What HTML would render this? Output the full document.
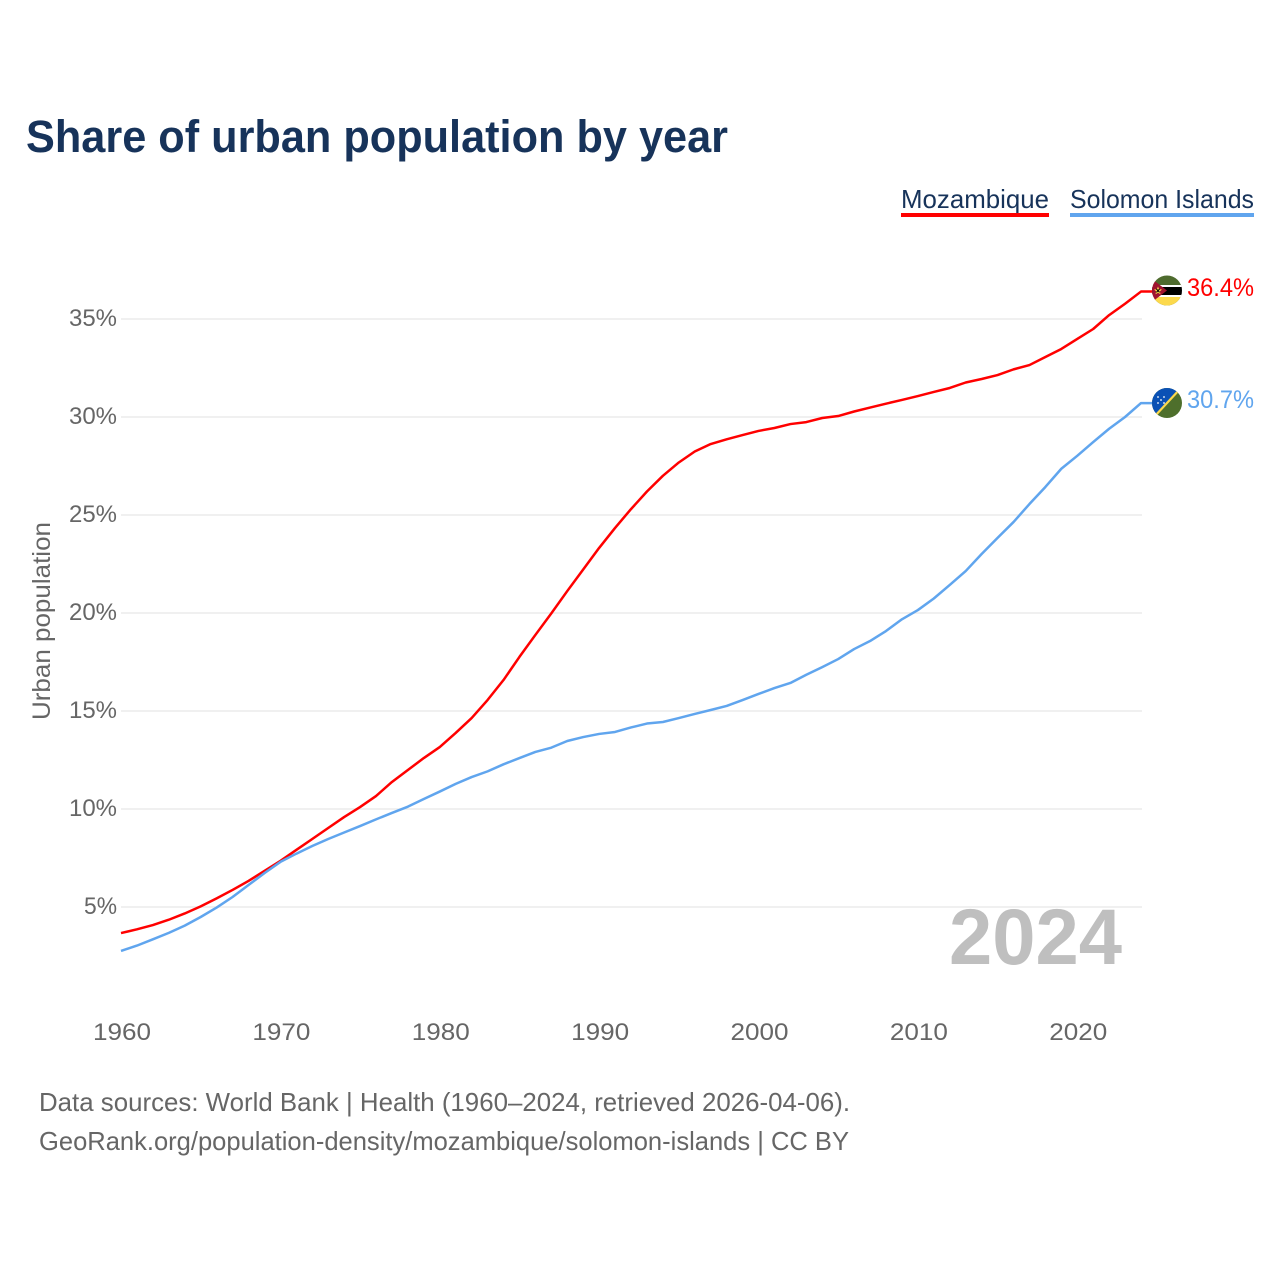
<!DOCTYPE html>
<html lang="en">
<head>
<meta charset="utf-8">
<title>Share of urban population by year</title>
<style>
html,body{margin:0;padding:0;background:#fff;width:1280px;height:1280px;overflow:hidden}
svg{display:block}
text{font-family:"Liberation Sans",sans-serif}
</style>
</head>
<body>
<svg id="chart" width="1280" height="1280" viewBox="0 0 1280 1280" xmlns="http://www.w3.org/2000/svg">
  <defs>
    <clipPath id="flag-clip-mz"><circle cx="1167" cy="290.5" r="15"/></clipPath>
    <clipPath id="flag-clip-sb"><circle cx="1167" cy="403" r="15"/></clipPath>
  </defs>
  <rect width="1280" height="1280" fill="#fff"/>
  <text x="26" y="152" font-size="45" font-weight="700" fill="#17335a" textLength="702" lengthAdjust="spacingAndGlyphs">Share of urban population by year</text>

  <g>
    <g>
      <text x="901" y="208" font-size="26" fill="#17335a" textLength="148" lengthAdjust="spacingAndGlyphs">Mozambique</text>
      <rect x="901" y="213" width="148" height="4" fill="#ff0000"/>
    </g>
    <g>
      <text x="1070" y="208" font-size="26" fill="#17335a" textLength="184" lengthAdjust="spacingAndGlyphs">Solomon Islands</text>
      <rect x="1070" y="213" width="184" height="4" fill="#60a5ee"/>
    </g>
  </g>

  <g id="grid"></g>
  <g id="yticks"></g>
  <g id="xticks"></g>
  <text transform="translate(50,621) rotate(-90)" text-anchor="middle" font-size="25" fill="#666" textLength="198" lengthAdjust="spacingAndGlyphs">Urban population</text>
  <text x="949" y="964" font-size="79" font-weight="700" fill="#bfbfbf" textLength="173" lengthAdjust="spacingAndGlyphs">2024</text>

  <g id="series"></g>

  <g clip-path="url(#flag-clip-mz)">
    <rect x="1152" y="275" width="30" height="31" fill="#4e6b2e"/>
    <rect x="1152" y="285" width="30" height="13" fill="#fff"/>
    <rect x="1152" y="287" width="30" height="8" fill="#000"/>
    <rect x="1152" y="297" width="30" height="10" fill="#fcd94c"/>
    <polygon points="1152,279 1167,290.5 1152,302" fill="#a0132f"/>
    <polygon points="1158,286.5 1159.1,289.3 1162,289.5 1159.8,291.4 1160.5,294.2 1158,292.7 1155.5,294.2 1156.2,291.4 1154,289.5 1156.9,289.3" fill="#fcd94c"/>
    <path d="M1156.4 289l3.2 3.4M1159.6 289l-3.2 3.4" stroke="#000" stroke-width="1" fill="none"/>
  </g>
  <g clip-path="url(#flag-clip-sb)">
    <rect x="1152" y="388" width="30" height="30" fill="#4e6f2c"/>
    <polygon points="1152,388 1182,388 1152,418" fill="#0a51b5"/>
    <line x1="1154" y1="417" x2="1180" y2="389" stroke="#fcd94c" stroke-width="2.2"/>
    <g fill="#fff">
      <circle cx="1158" cy="397" r=".9"/><circle cx="1164" cy="397" r=".9"/><circle cx="1161" cy="400" r=".9"/><circle cx="1158" cy="403" r=".9"/><circle cx="1164" cy="403" r=".9"/>
    </g>
  </g>

  <text x="1187" y="296" font-size="25" fill="#ff0000" textLength="67" lengthAdjust="spacingAndGlyphs">36.4%</text>
  <text x="1187" y="408" font-size="25" fill="#60a5ee" textLength="67" lengthAdjust="spacingAndGlyphs">30.7%</text>

  <text x="39" y="1111" font-size="26" fill="#666" textLength="811" lengthAdjust="spacingAndGlyphs">Data sources: World Bank | Health (1960–2024, retrieved 2026-04-06).</text>
  <text x="39" y="1150" font-size="26" fill="#666" textLength="810" lengthAdjust="spacingAndGlyphs">GeoRank.org/population-density/mozambique/solomon-islands | CC BY</text>
</svg>
<script>
var startYear = 1960;
var endYear = 2024;
var yTickValues = [5, 10, 15, 20, 25, 30, 35];
var yTickLabels = ["5%", "10%", "15%", "20%", "25%", "30%", "35%"];
var xTickValues = [1960, 1970, 1980, 1990, 2000, 2010, 2020];
var xTickLabels = ["1960", "1970", "1980", "1990", "2000", "2010", "2020"];
var mozambique = [3.67,3.86,4.08,4.35,4.67,5.03,5.44,5.87,6.33,6.84,
  7.35,7.91,8.47,9.03,9.59,10.10,10.66,11.38,11.99,12.60,
  13.16,13.88,14.64,15.56,16.58,17.76,18.88,19.98,21.12,22.22,
  23.32,24.34,25.30,26.20,27.00,27.68,28.24,28.62,28.86,29.08,
  29.29,29.44,29.64,29.74,29.95,30.05,30.28,30.48,30.68,30.87,
  31.07,31.28,31.48,31.76,31.94,32.14,32.43,32.65,33.06,33.47,
  33.98,34.49,35.20,35.78,36.40];
var solomonIslands = [2.76,3.03,3.35,3.68,4.05,4.49,4.97,5.51,6.12,6.73,
  7.30,7.72,8.11,8.47,8.80,9.13,9.47,9.80,10.12,10.51,
  10.89,11.28,11.63,11.92,12.28,12.60,12.91,13.13,13.47,13.67,
  13.83,13.93,14.16,14.36,14.44,14.64,14.85,15.05,15.26,15.56,
  15.87,16.17,16.43,16.85,17.24,17.65,18.16,18.57,19.08,19.68,
  20.15,20.74,21.43,22.14,23.01,23.83,24.64,25.56,26.43,27.36,
  28.02,28.72,29.40,30.00,30.71];

var NS = "http://www.w3.org/2000/svg";
function xScale(year) { return 121 + (year - startYear) * (1141 - 121) / (endYear - startYear); }
function yScale(value) { return 907 - (value - 5) * 19.6; }
function make(tag, parentId) {
  var el = document.createElementNS(NS, tag);
  document.getElementById(parentId).appendChild(el);
  return el;
}

yTickValues.forEach(function (v, i) {
  var line = make("line", "grid");
  
  
  line.setAttribute("x1", xScale(startYear));
  line.setAttribute("x2", xScale(endYear) + 1);
  line.setAttribute("y1", yScale(v));
  line.setAttribute("y2", yScale(v));
  line.setAttribute("stroke", "#ececec");
  line.setAttribute("stroke-width", "1.5");

  var t = make("text", "yticks");
  
  
  t.setAttribute("x", 117);
  t.setAttribute("y", yScale(v) + 7);
  t.setAttribute("text-anchor", "end");
  t.setAttribute("font-size", "24");
  t.setAttribute("fill", "#666");
  t.setAttribute("textLength", yTickLabels[i].length === 2 ? 33 : 48);
  t.setAttribute("lengthAdjust", "spacingAndGlyphs");
  t.textContent = yTickLabels[i];
});

xTickValues.forEach(function (v, i) {
  var t = make("text", "xticks");
  
  
  t.setAttribute("x", xScale(v) + 1);
  t.setAttribute("y", 1040);
  t.setAttribute("text-anchor", "middle");
  t.setAttribute("font-size", "24");
  t.setAttribute("fill", "#666");
  t.setAttribute("textLength", 58);
  t.setAttribute("lengthAdjust", "spacingAndGlyphs");
  t.textContent = xTickLabels[i];
});

function pathFor(values) {
  var d = values.map(function (v, i) {
    return (i ? "L" : "M") + xScale(startYear + i).toFixed(2) + " " + yScale(v).toFixed(2);
  }).join("");
  return d + "H1153";
}

var redLine = make("path", "series");


redLine.setAttribute("d", pathFor(mozambique));
redLine.setAttribute("fill", "none");
redLine.setAttribute("stroke", "#ff0000");
redLine.setAttribute("stroke-width", "2.5");
redLine.setAttribute("stroke-linejoin", "round");

var blueLine = make("path", "series");


blueLine.setAttribute("d", pathFor(solomonIslands));
blueLine.setAttribute("fill", "none");
blueLine.setAttribute("stroke", "#60a5ee");
blueLine.setAttribute("stroke-width", "2.5");
blueLine.setAttribute("stroke-linejoin", "round");
</script>
</body>
</html>
